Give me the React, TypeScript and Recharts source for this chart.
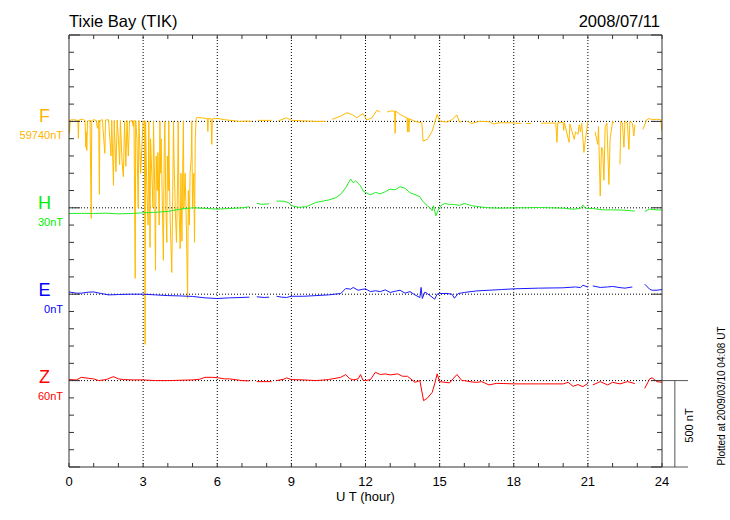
import React from 'react';
import { LineChart, Line, XAxis, YAxis, ReferenceLine } from 'recharts';

type Pt = [number, number | null];

// hourly ticks, labelled every 3 h
const hourTicks = [0, 1, 2, 3, 4, 5, 6, 7, 8, 9, 10, 11, 12, 13, 14, 15, 16, 17, 18, 19, 20, 21, 22, 23, 24];
const gridHours = [3, 6, 9, 12, 15, 18, 21];
// vertical scale: 100 nT per minor tick, 500 nT per trace band
const nTTicks = [0, 100, 200, 300, 400, 500, 600, 700, 800, 900, 1000, 1100, 1200, 1300, 1400, 1500, 1600, 1700, 1800, 1900, 2000, 2100, 2200, 2300, 2400, 2500];

// F (nT)
const fData: Pt[] = [
  [0.0, 59745], [0.02, 59670], [0.05, 59748], [0.2, 59750], [0.36, 59745], [0.38, 59642], [0.4, 59748],
  [0.55, 59752], [0.65, 59745], [0.68, 59590], [0.7, 59680], [0.72, 59572], [0.75, 59740], [0.85, 59748],
  [0.9, 59179], [0.92, 59745], [1.0, 59750], [1.1, 59745], [1.15, 59700], [1.2, 59748], [1.23, 59318],
  [1.25, 59745], [1.35, 59750], [1.45, 59555], [1.48, 59748], [1.6, 59750], [1.7, 59540], [1.73, 59745],
  [1.8, 59370], [1.83, 59745], [1.9, 59450], [1.95, 59748], [2.0, 59640], [2.05, 59490], [2.08, 59745],
  [2.15, 59500], [2.2, 59420], [2.25, 59740], [2.3, 59480], [2.35, 59745], [2.4, 59540], [2.45, 59740],
  [2.55, 59745], [2.6, 59710], [2.63, 59745], [2.68, 58832], [2.7, 59745], [2.75, 59640], [2.8, 59240],
  [2.83, 59745], [2.9, 59440], [2.95, 59590], [3.0, 59740], [3.05, 59745], [3.08, 58450], [3.1, 59740],
  [3.15, 59340], [3.2, 59140], [3.23, 59740], [3.28, 59011], [3.3, 59640], [3.35, 59440], [3.4, 59240],
  [3.42, 59740], [3.47, 59340], [3.5, 58878], [3.53, 59540], [3.57, 59340], [3.6, 59560], [3.65, 59140],
  [3.68, 59740], [3.7, 59440], [3.73, 59640], [3.78, 59240], [3.82, 58936], [3.85, 59540], [3.88, 59740],
  [3.92, 59240], [3.96, 59040], [3.98, 59540], [4.02, 59340], [4.04, 59740], [4.06, 59440], [4.1, 59140],
  [4.16, 58866], [4.2, 59340], [4.23, 59740], [4.25, 59540], [4.3, 59240], [4.35, 59040], [4.4, 59440],
  [4.42, 59740], [4.45, 59240], [4.5, 59004], [4.53, 59440], [4.57, 59046], [4.6, 59440], [4.63, 59740],
  [4.65, 59240], [4.7, 59440], [4.75, 59140], [4.8, 58716], [4.83, 59340], [4.87, 59140], [4.9, 59440],
  [4.95, 59540], [4.97, 59740], [5.0, 59240], [5.05, 59440], [5.08, 59040], [5.11, 59640], [5.15, 59760],
  [5.2, 59763], [5.4, 59760], [5.6, 59757], [5.62, 59682], [5.64, 59757], [5.75, 59755], [5.78, 59607],
  [5.8, 59755], [6.0, 59757], [6.3, 59750], [6.6, 59745], [6.9, 59740], [7.2, 59742], [7.4, 59740],
  [7.45, null], [7.65, 59746], [8.2, 59746], [8.3, null], [8.46, 59742], [8.8, 59761], [9.0, 59746],
  [9.5, 59743], [10.0, 59740], [10.4, 59740], [10.5, null], [10.64, 59752], [10.97, 59769], [11.25, 59790],
  [11.45, 59780], [11.65, 59761], [11.9, 59786], [12.05, 59748], [12.26, 59761], [12.46, 59804], [12.59, 59794],
  [12.7, null], [12.87, 59794], [13.0, 59800], [13.18, 59800], [13.2, 59671], [13.22, 59800], [13.4, 59780],
  [13.6, 59765], [13.68, 59761], [13.7, 59678], [13.72, 59760], [13.76, 59678], [13.78, 59755], [14.0, 59740],
  [14.28, 59732], [14.33, 59626], [14.5, 59636], [14.7, 59684], [14.9, 59780], [15.0, 59742], [15.3, 59736],
  [15.5, 59750], [15.7, 59777], [15.8, 59736], [15.9, 59740], [16.0, null], [16.1, 59742], [16.3, 59728],
  [16.6, 59740], [17.0, 59738], [17.2, 59725], [17.4, 59732], [17.9, 59732], [18.3, 59728], [18.4, null],
  [18.5, 59728], [18.7, 59728], [18.9, null], [19.1, 59730], [19.7, 59730], [19.75, 59619], [19.78, 59732],
  [20.0, 59734], [20.02, 59688], [20.05, 59732], [20.24, 59619], [20.27, 59725], [20.45, 59636], [20.5, 59680],
  [20.6, 59665], [20.65, 59720], [20.7, 59680], [20.75, 59730], [20.84, 59561], [20.9, 59636], [21.0, 59740],
  [21.1, null], [21.29, 59680], [21.4, 59607], [21.43, 59710], [21.5, 59308], [21.55, 59590], [21.6, 59580],
  [21.65, 59399], [21.7, 59710], [21.77, 59730], [21.85, 59375], [21.9, 59640], [22.0, 59740], [22.05, 59730],
  [22.15, null], [22.3, 59491], [22.33, 59740], [22.4, 59730], [22.46, 59590], [22.5, 59740], [22.6, 59730],
  [22.66, 59578], [22.7, 59740], [22.8, 59730], [22.86, 59655], [22.9, 59720], [23.0, null], [23.23, 59694],
  [23.38, 59750], [23.5, 59757], [23.6, 59750], [23.78, 59752], [23.95, 59750], [24.0, 59682],
];

// H (nT)
const hData: Pt[] = [
  [0, -3], [0.5, -2], [1.0, -3], [1.5, -1], [2.0, -5], [2.5, -3], [3.0, 1], [3.5, 4], [4.0, 9], [4.5, 22],
  [5.0, 30], [5.5, 27], [6.0, 22], [6.5, 26], [7.0, 30], [7.3, 36], [7.4, null], [7.6, 56], [7.8, 50],
  [8.1, 53], [8.2, null], [8.4, 69], [8.7, 68], [8.9, 59], [9.0, 42], [9.3, 33], [9.6, 36], [10.0, 61],
  [10.5, 75], [10.8, 88], [11.0, 109], [11.2, 146], [11.4, 196], [11.5, 175], [11.6, 186], [11.8, 157],
  [11.9, 128], [12.0, 119], [12.2, 105], [12.4, 119], [12.6, 111], [12.8, 123], [13.0, 138], [13.2, 134],
  [13.4, 152], [13.6, 143], [13.8, 117], [14.0, 107], [14.2, 94], [14.3, 70], [14.5, 42], [14.6, 32],
  [14.7, 13], [14.75, 42], [14.85, -16], [14.95, 18], [15.05, 42], [15.2, 55], [15.4, 50], [15.6, 49],
  [15.8, 44], [16.0, 55], [16.3, 42], [16.6, 36], [17.0, 30], [17.5, 28], [18.0, 30], [18.5, 30], [19.0, 32],
  [19.5, 30], [20.0, 28], [20.4, 22], [20.7, 26], [20.8, 46], [20.9, 27], [21.2, 26], [21.6, 18], [22.0, 18],
  [22.5, 16], [22.9, 11], [23.0, null], [23.3, 9], [23.5, 22], [23.8, 18], [24.0, 17],
];

// E (nT)
const eData: Pt[] = [
  [0, 13], [0.3, 6], [0.5, 6], [0.8, 12], [1.0, 13], [1.3, 4], [1.6, -4], [2.0, -2], [2.5, 0], [3.0, 0],
  [3.5, -4], [4.0, -8], [4.5, -10], [5.0, -13], [5.5, -21], [6.0, -25], [6.5, -21], [7.0, -19], [7.3, -17],
  [7.4, null], [7.6, -15], [7.9, -19], [8.1, -17], [8.2, null], [8.4, -12], [8.6, -17], [8.8, -19], [9.0, -12],
  [9.5, -12], [10.0, -8], [10.5, -4], [11.0, 4], [11.2, 33], [11.4, 29], [11.5, 39], [11.7, 23], [11.9, 29],
  [12.0, 31], [12.2, 15], [12.4, 20], [12.6, 15], [12.8, 25], [13.0, 10], [13.2, 17], [13.4, 23], [13.6, 6],
  [13.8, 15], [14.0, -4], [14.2, -19], [14.25, 39], [14.3, -25], [14.4, 12], [14.5, 4], [14.65, -12],
  [14.8, -29], [14.9, 0], [15.0, 4], [15.3, 4], [15.5, 0], [15.6, -23], [15.75, 4], [16.0, 10], [16.5, 19],
  [17.0, 23], [17.5, 27], [18.0, 31], [19.0, 35], [20.0, 37], [20.5, 42], [20.7, 38], [20.8, 52], [21.0, 41],
  [21.05, null], [21.2, 48], [21.5, 39], [21.8, 42], [22.0, 45], [22.3, 38], [22.5, 35], [22.8, 42],
  [22.9, null], [23.3, 58], [23.5, 29], [23.6, 23], [23.8, 23], [24.0, 27],
];

// Z (nT)
const zData: Pt[] = [
  [0, 66], [0.3, 64], [0.5, 79], [0.8, 73], [1.0, 70], [1.2, 60], [1.5, 66], [1.8, 83], [2.0, 70], [2.2, 66],
  [2.6, 64], [3.0, 64], [3.5, 60], [4.0, 60], [4.5, 62], [5.0, 64], [5.3, 68], [5.5, 79], [5.8, 79], [6.0, 77],
  [6.3, 70], [6.5, 70], [7.0, 60], [7.3, 58], [7.4, null], [7.6, 54], [8.2, 54], [8.3, null], [8.4, 60],
  [8.7, 68], [8.8, 76], [9.0, 66], [9.5, 64], [10.0, 60], [10.5, 66], [11.0, 79], [11.2, 95], [11.35, 72],
  [11.5, 64], [11.7, 70], [11.8, 95], [11.9, 62], [12.0, 60], [12.2, 66], [12.4, 108], [12.6, 95], [12.8, 99],
  [13.0, 93], [13.3, 99], [13.5, 85], [13.7, 85], [14.0, 50], [14.2, 60], [14.35, -56], [14.5, -42],
  [14.7, -8], [14.8, 41], [14.9, 99], [15.0, 54], [15.4, 47], [15.7, 95], [15.9, 60], [16.0, 60], [16.3, 52],
  [16.5, 50], [16.7, 54], [17.0, 35], [17.3, 44], [17.6, 43], [18.0, 41], [19.0, 41], [20.0, 41], [20.2, 50],
  [20.4, 27], [20.6, 37], [20.8, 25], [21.0, 44], [21.05, null], [21.2, 35], [21.5, 54], [21.8, 35], [22.0, 50],
  [22.3, 41], [22.6, 54], [22.9, 43], [23.0, null], [23.3, 15], [23.5, 70], [23.6, 76], [23.8, 54], [24.0, 50],
];

const traces = [
  { name: 'F', unit: '59740nT', base: 59740, band: 2000, data: fData, line: '#ffbb00', label: '#ffb400' },
  { name: 'H', unit: '30nT', base: 30, band: 1500, data: hData, line: '#22ee22', label: '#00ee00' },
  { name: 'E', unit: '0nT', base: 0, band: 1000, data: eData, line: '#1a1aff', label: '#0000ff' },
  { name: 'Z', unit: '60nT', base: 60, band: 500, data: zData, line: '#ff0000', label: '#ff0000' },
];

const font = '"Liberation Sans", Arial, Helvetica, sans-serif';
const axisColor = '#333';

const toRows = (pts: Pt[], base: number, band: number) =>
  pts.map(([t, v]) => ({ t, v: v === null ? null : band + (v - base) }));

// inward tick marks (tickSize 0 puts x/y right on the axis line)
const BottomTick = (props: any) => {
  const { x, y, payload } = props;
  return (
    <g>
      <line x1={x} x2={x} y1={y} y2={y - 4} stroke={axisColor} />
      {payload.value % 3 === 0 && (
        <text x={x} y={y + 19} textAnchor="middle" fontSize={13} fontFamily={font} fill="#000">
          {payload.value}
        </text>
      )}
    </g>
  );
};
const TopTick = (props: any) => (
  <line x1={props.x} x2={props.x} y1={props.y} y2={props.y + 4} stroke={axisColor} />
);
const LeftTick = (props: any) => {
  const len = props.payload.value % 500 === 0 ? 11 : 5;
  return <line x1={props.x} x2={props.x + len} y1={props.y} y2={props.y} stroke={axisColor} />;
};
const RightTick = (props: any) => {
  const len = props.payload.value % 500 === 0 ? 11 : 5;
  return <line x1={props.x} x2={props.x - len} y1={props.y} y2={props.y} stroke={axisColor} />;
};

export default function App() {
  return (
    <div style={{ position: 'absolute', left: 0, top: 0, width: 730, height: 520, background: '#fff' }}>
      <LineChart width={730} height={520} margin={{ top: 34, right: 67, bottom: 52, left: 68 }}>
        <XAxis xAxisId="b" dataKey="t" type="number" domain={[0, 24]} ticks={hourTicks} interval={0} height={1}
          stroke={axisColor} tickSize={0} tickMargin={0} tickLine={false} tick={<BottomTick />} allowDataOverflow />
        <XAxis xAxisId="t" orientation="top" dataKey="t" type="number" domain={[0, 24]} ticks={hourTicks}
          interval={0} height={1} stroke={axisColor} tickSize={0} tickMargin={0} tickLine={false}
          tick={<TopTick />} allowDataOverflow />
        <YAxis yAxisId="l" type="number" domain={[0, 2500]} ticks={nTTicks} interval={0} width={1}
          stroke={axisColor} tickSize={0} tickMargin={0} tickLine={false} tick={<LeftTick />} allowDataOverflow />
        <YAxis yAxisId="r" orientation="right" type="number" domain={[0, 2500]} ticks={nTTicks} interval={0}
          width={1} stroke={axisColor} tickSize={0} tickMargin={0} tickLine={false} tick={<RightTick />}
          allowDataOverflow />

        {gridHours.map((h) => (
          <ReferenceLine key={'g' + h} xAxisId="b" yAxisId="l" x={h} stroke="#000" strokeDasharray="1 2" />
        ))}
        {traces.map((tr) => (
          <ReferenceLine key={'b' + tr.name} xAxisId="b" yAxisId="l" y={tr.band} stroke="#000" strokeDasharray="1 2" />
        ))}

        {/* 500 nT scale bar */}
        <ReferenceLine xAxisId="b" yAxisId="l" ifOverflow="visible" stroke="#555"
          segment={[{ x: 24, y: 500 }, { x: 25.05, y: 500 }]} />
        <ReferenceLine xAxisId="b" yAxisId="l" ifOverflow="visible" stroke="#555"
          segment={[{ x: 24, y: 0 }, { x: 25.05, y: 0 }]} />
        <ReferenceLine xAxisId="b" yAxisId="l" ifOverflow="visible" stroke="#555"
          segment={[{ x: 24.52, y: 0 }, { x: 24.52, y: 500 }]} />

        {traces.map((tr) => (
          <Line key={tr.name} xAxisId="b" yAxisId="l" data={toRows(tr.data, tr.base, tr.band)} dataKey="v"
            stroke={tr.line} strokeWidth={1} dot={false} activeDot={false} connectNulls={false}
            isAnimationActive={false} type="linear" />
        ))}
      </LineChart>

      <svg width={730} height={520} style={{ position: 'absolute', left: 0, top: 0, pointerEvents: 'none' }}
        fontFamily={font}>
        <text x={69} y={27} fontSize={16.5} fill="#000">Tixie Bay (TIK)</text>
        <text x={660} y={27} fontSize={16.5} fill="#000" textAnchor="end">2008/07/11</text>
        {traces.map((tr, i) => (
          <g key={tr.name}>
            <text x={44.5} y={122 + i * 87} fontSize={18} fill={tr.label} textAnchor="middle">{tr.name}</text>
            <text x={63} y={139 + i * 87} fontSize={11} fill={tr.label} textAnchor="end">{tr.unit}</text>
          </g>
        ))}
        <text x={365.5} y={501} fontSize={13} fill="#000" textAnchor="middle">U T (hour)</text>
        <text transform="translate(693,425.5) rotate(-90)" fontSize={11} fill="#000" textAnchor="middle">500 nT</text>
        <text transform="translate(725,396) rotate(-90)" fontSize={10} fill="#000" textAnchor="middle">
          Plotted at 2009/03/10 04:08 UT
        </text>
      </svg>
    </div>
  );
}
